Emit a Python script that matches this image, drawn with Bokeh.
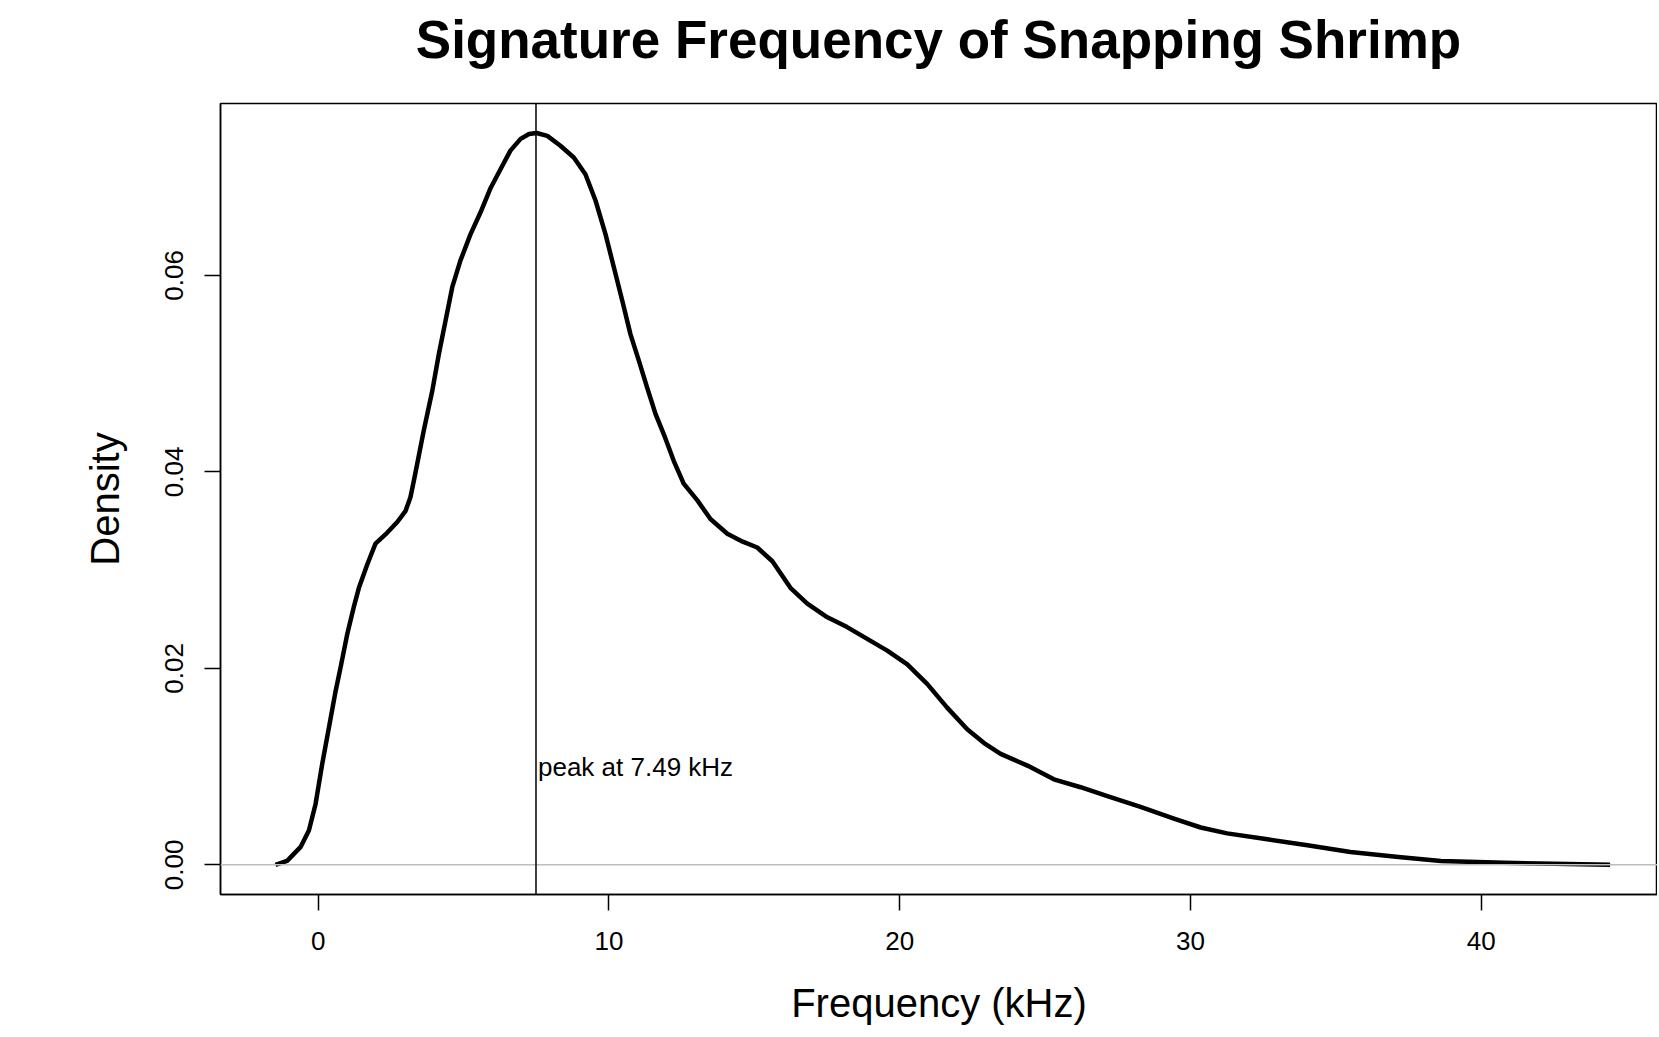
from bokeh.plotting import figure
from bokeh.models import Span, Label, FixedTicker, Range1d, Div
from bokeh.layouts import column
from bokeh.embed import file_html
from bokeh.resources import INLINE

# Density curve
freq_khz = [-1.47, -1.07, -0.61, -0.32, -0.09, 0.14, 0.37, 0.60, 0.77, 1.00, 1.22, 1.40,
            1.69, 1.97, 2.37, 2.72, 3.00, 3.17, 3.29, 3.63, 3.92, 4.15, 4.38, 4.61, 4.89,
            5.24, 5.58, 5.93, 6.27, 6.61, 6.96, 7.25, 7.51, 7.88, 8.33, 8.79, 9.19, 9.54,
            9.88, 10.17, 10.46, 10.74, 11.03, 11.31, 11.60, 11.89, 12.23, 12.57, 13.04,
            13.49, 14.07, 14.60, 15.10, 15.62, 16.24, 16.82, 17.51, 18.19, 18.88, 19.57,
            20.26, 20.95, 21.63, 22.32, 22.90, 23.47, 24.39, 25.30, 26.22, 27.14, 28.28,
            29.43, 30.35, 31.26, 32.64, 34.02, 35.50, 37.15, 38.61, 40.79, 42.50, 44.43]
density = [0.0000, 0.0004, 0.0018, 0.0035, 0.0062, 0.0103, 0.0140, 0.0177, 0.0201, 0.0235,
           0.0262, 0.0282, 0.0306, 0.0327, 0.0338, 0.0349, 0.0360, 0.0374, 0.0391, 0.0442,
           0.0482, 0.0520, 0.0554, 0.0588, 0.0615, 0.0642, 0.0664, 0.0689, 0.0708, 0.0727,
           0.0739, 0.0744, 0.0745, 0.0742, 0.0732, 0.0720, 0.0703, 0.0676, 0.0642, 0.0608,
           0.0574, 0.0540, 0.0513, 0.0486, 0.0459, 0.0438, 0.0411, 0.0388, 0.0371, 0.0352,
           0.0337, 0.0329, 0.0323, 0.0309, 0.0282, 0.0266, 0.0252, 0.0242, 0.0230, 0.0218,
           0.0204, 0.0184, 0.0160, 0.0138, 0.0124, 0.0113, 0.0101, 0.0087, 0.0079, 0.0070,
           0.0059, 0.0047, 0.0038, 0.0032, 0.0026, 0.0020, 0.0013, 0.0008, 0.0004, 0.0002,
           0.0001, 0.0000]
peak_khz = 7.49
peak_label = "peak at 7.49 kHz"
peak_label_y = 0.01
x_ticks = [0, 10, 20, 30, 40]
y_ticks = [0.00, 0.02, 0.04, 0.06]
y_tick_labels = ["0.00", "0.02", "0.04", "0.06"]
title_text = "Signature Frequency of Snapping Shrimp"

FONT = "Liberation Sans"

title_div = Div(
    text=('<div style="display:block; box-sizing:border-box; width:1437px; '
          'margin-left:220px; margin-top:13px; text-align:center; '
          'font-family:\'Liberation Sans\', Arial, sans-serif; font-size:53px; '
          'font-weight:bold; line-height:1; color:black; white-space:nowrap;">'
          + title_text + '</div>'),
    width=1657, height=80, margin=(0, 0, 0, 0))

p = figure(width=1657, height=950, output_backend="svg", toolbar_location=None,
           x_range=Range1d(-3.36, 46.06), y_range=Range1d(-0.00302, 0.0775),
           min_border_left=220, min_border_right=0, min_border_top=23, min_border_bottom=136,
           x_axis_label="Frequency (kHz)", y_axis_label="Density", margin=(0, 0, 0, 0))

p.grid.visible = False
p.outline_line_color = "black"
p.outline_line_width = 1.5
p.background_fill_color = "white"
p.border_fill_color = "white"

for ax in (p.xaxis[0], p.yaxis[0]):
    ax.axis_line_color = "black"
    ax.axis_line_width = 1.5
    ax.major_tick_line_color = "black"
    ax.major_tick_line_width = 1.5
    ax.major_tick_out = 16
    ax.major_tick_in = 0
    ax.minor_tick_line_color = None
    ax.major_label_text_font = FONT
    ax.major_label_text_font_size = "26px"
    ax.major_label_text_color = "black"
    ax.axis_label_text_font = FONT
    ax.axis_label_text_font_size = "40px"
    ax.axis_label_text_font_style = "normal"
    ax.axis_label_text_color = "black"

p.xaxis.ticker = FixedTicker(ticks=x_ticks)
p.yaxis.ticker = FixedTicker(ticks=y_ticks)
p.yaxis.major_label_overrides = {t: s for t, s in zip(y_ticks, y_tick_labels)}
p.yaxis.major_label_orientation = "vertical"
p.xaxis.major_label_standoff = 21
p.yaxis.major_label_standoff = 21
p.xaxis.axis_label_standoff = 28
p.yaxis.axis_label_standoff = 36

# zero reference line
p.add_layout(Span(location=0, dimension="width", line_color="#bebebe", line_width=1.5))

p.line(freq_khz, density, line_color="black", line_width=4.5, line_join="round")

p.add_layout(Span(location=peak_khz, dimension="height", line_color="black", line_width=1.5))
p.add_layout(Label(x=peak_khz, y=peak_label_y, text=peak_label, text_font=FONT,
                   text_font_size="26px", text_color="black", text_align="left",
                   text_baseline="middle", x_offset=2))

layout = column(title_div, p, spacing=0)
open("out.html", "w").write(file_html(layout, INLINE))
